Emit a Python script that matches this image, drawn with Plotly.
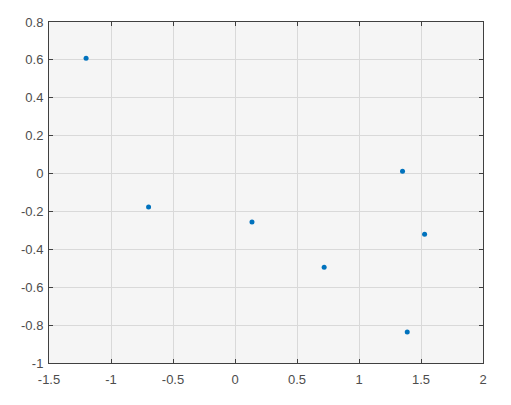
import plotly.graph_objects as go

x_vals = [-1.201, -0.697, 0.137, 0.719, 1.351, 1.529, 1.389]
y_vals = [0.608, -0.177, -0.256, -0.494, 0.012, -0.321, -0.837]
x_ticks = [-1.5, -1, -0.5, 0, 0.5, 1, 1.5, 2]
x_tick_labels = ["-1.5", "-1", "-0.5", "0", "0.5", "1", "1.5", "2"]
y_ticks = [-1, -0.8, -0.6, -0.4, -0.2, 0, 0.2, 0.4, 0.6, 0.8]
y_tick_labels = ["-1", "-0.8", "-0.6", "-0.4", "-0.2", "0", "0.2", "0.4", "0.6", "0.8"]

fig = go.Figure()
fig.add_trace(go.Scatter(
    x=x_vals, y=y_vals, mode="markers",
    marker=dict(color="#0072BD", size=5, line=dict(width=0)),
    showlegend=False,
))

axis_common = dict(
    showline=True, linecolor="#404040", linewidth=1, mirror="allticks",
    ticks="inside", ticklen=4, tickcolor="#404040", tickwidth=1,
    showgrid=True, gridcolor="#d9d9d9", gridwidth=1, zeroline=False,
    automargin=False,
    tickfont=dict(family="Liberation Sans, Arial, sans-serif", size=13, color="#4d4d4d"),
)

fig.update_xaxes(range=[-1.5, 2], tickvals=x_ticks, ticktext=x_tick_labels,
                 ticklabelstandoff=4, **axis_common)
fig.update_yaxes(range=[-1, 0.8], tickvals=y_ticks, ticktext=y_tick_labels,
                 ticklabelstandoff=2, **axis_common)

fig.update_layout(
    width=503, height=397,
    margin=dict(l=41, r=28, t=14, b=42),
    plot_bgcolor="#f5f5f5", paper_bgcolor="white",
)

fig.write_html("out.html")
